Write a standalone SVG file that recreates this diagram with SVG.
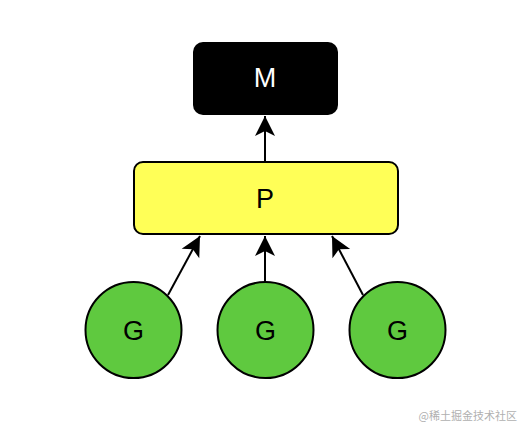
<svg xmlns="http://www.w3.org/2000/svg" width="532" height="436" viewBox="0 0 532 436">
<style>
.lbl{font-family:"Liberation Sans",Arial,sans-serif;font-size:27px;text-anchor:middle}
.g{fill:#5fc93f;stroke:#000;stroke-width:2}
.edge{stroke:#000;stroke-width:2;fill:none}
</style>
<defs>
<marker id="arr" markerUnits="userSpaceOnUse" viewBox="-21 -11 22 22" refX="0" refY="0" markerWidth="22" markerHeight="22" orient="auto">
<path d="M0,0 L-20,-10 L-15,0 L-20,10 Z" fill="#000"/>
</marker>
</defs>
<rect width="532" height="436" fill="#fff"/>
<g id="connectors">
<line class="edge" x1="265" y1="162" x2="265" y2="116" marker-end="url(#arr)"/>
<line class="edge" x1="168" y1="295" x2="200" y2="236" marker-end="url(#arr)"/>
<line class="edge" x1="265" y1="282" x2="265" y2="236" marker-end="url(#arr)"/>
<line class="edge" x1="363" y1="295" x2="332" y2="236" marker-end="url(#arr)"/>
</g>
<g id="M">
<rect x="193" y="42" width="145" height="73" rx="10" fill="#000"/>
<text class="lbl" x="265" y="87" fill="#fff">M</text>
</g>
<g id="P">
<rect x="134" y="162" width="264" height="72" rx="9" fill="#ffff57" stroke="#000" stroke-width="2"/>
<text class="lbl" x="265" y="208">P</text>
</g>
<g id="G1">
<circle class="g" cx="133.5" cy="330" r="48"/>
<text class="lbl" x="133.5" y="340">G</text>
</g>
<g id="G2">
<circle class="g" cx="265.5" cy="330" r="48"/>
<text class="lbl" x="265.5" y="340">G</text>
</g>
<g id="G3">
<circle class="g" cx="397.5" cy="330" r="48"/>
<text class="lbl" x="397.5" y="340">G</text>
</g>
<text x="517" y="420" font-family="'Noto Sans CJK SC',sans-serif" font-size="11" fill="#b0b0b0" text-anchor="end">@稀土掘金技术社区</text>
</svg>
